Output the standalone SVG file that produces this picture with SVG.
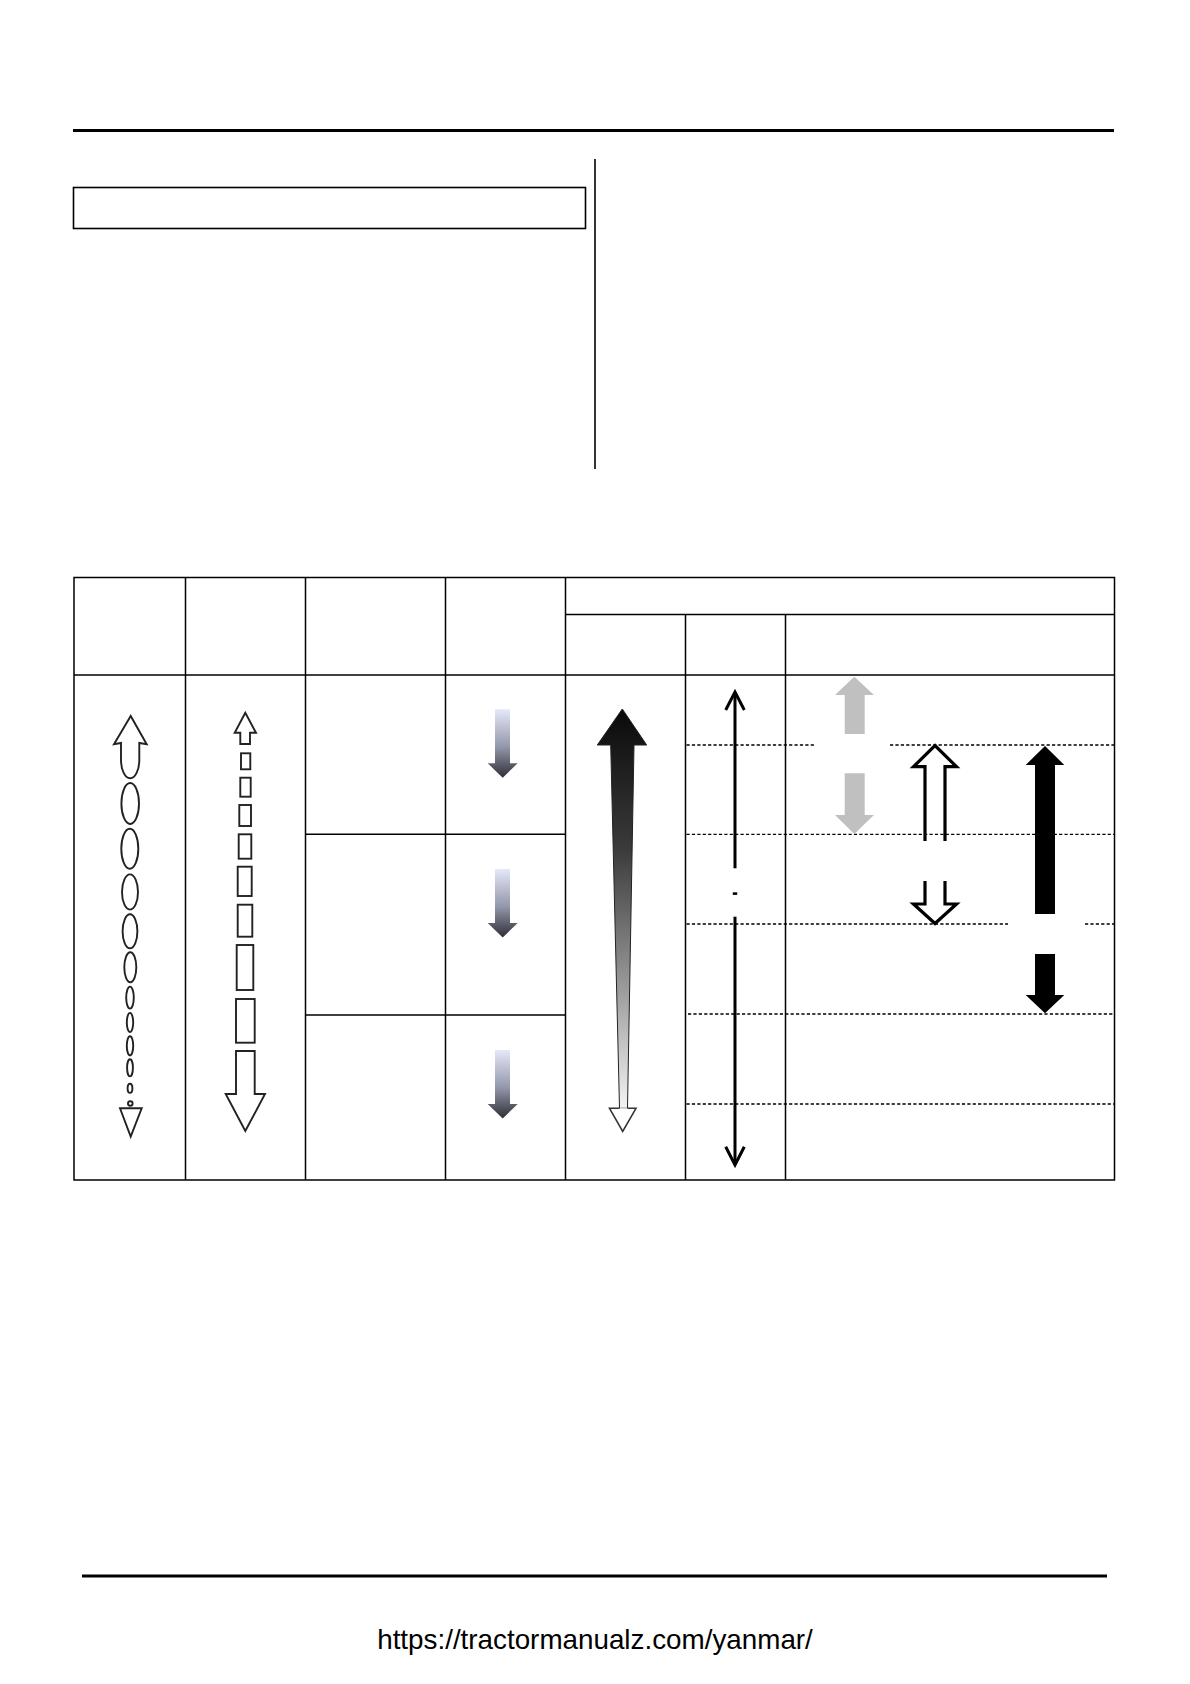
<svg xmlns="http://www.w3.org/2000/svg" width="1190" height="1684" viewBox="0 0 1190 1684">
<style>
.grid{stroke:#000;stroke-width:1.5;fill:none}
.dash{stroke:#000;stroke-width:1.3;stroke-dasharray:3.2 2.2;fill:none}
.gray{fill:#c0c0c0}
.blk{fill:#000}
.hollow{fill:none;stroke:#000;stroke-width:3.2;stroke-linejoin:miter}
.thin{fill:none;stroke:#000;stroke-width:3}
</style>
<defs>
<linearGradient id="gBlue" x1="0" y1="0" x2="0" y2="1">
<stop offset="0" stop-color="#e4e8f8"/>
<stop offset="0.55" stop-color="#9397aa"/>
<stop offset="1" stop-color="#2f2f37"/>
</linearGradient>
<linearGradient id="gTaper" gradientUnits="userSpaceOnUse" x1="0" y1="709" x2="0" y2="1107">
<stop offset="0" stop-color="#0a0a0a"/>
<stop offset="0.35" stop-color="#3a3a3a"/>
<stop offset="0.7" stop-color="#9a9a9a"/>
<stop offset="1" stop-color="#f2f2f2"/>
</linearGradient>
</defs>
<rect width="1190" height="1684" fill="#fff"/>

<g id="page-frame">
<line x1="73" y1="130.5" x2="1114" y2="130.5" stroke="#000" stroke-width="3"/>
<rect x="73.5" y="187.5" width="512" height="41" fill="none" stroke="#000" stroke-width="1.6"/>
<line x1="595" y1="159" x2="595" y2="469" stroke="#000" stroke-width="1.6"/>
<line x1="82" y1="1576" x2="1107" y2="1576" stroke="#000" stroke-width="2.8"/>
<text x="595" y="1649" font-family="'Liberation Sans', Arial, sans-serif" font-size="27.8" text-anchor="middle" fill="#000">https://tractormanualz.com/yanmar/</text>
</g>

<g id="table">
<rect class="grid" x="74" y="577.5" width="1040.5" height="602.5"/>
<line class="grid" x1="74" y1="675" x2="1114.5" y2="675"/>
<line class="grid" x1="565.5" y1="614.5" x2="1114.5" y2="614.5"/>
<line class="grid" x1="185.5" y1="577.5" x2="185.5" y2="1180"/>
<line class="grid" x1="305.5" y1="577.5" x2="305.5" y2="1180"/>
<line class="grid" x1="445.5" y1="577.5" x2="445.5" y2="1180"/>
<line class="grid" x1="565.5" y1="577.5" x2="565.5" y2="1180"/>
<line class="grid" x1="685.5" y1="614.5" x2="685.5" y2="1180"/>
<line class="grid" x1="785.5" y1="614.5" x2="785.5" y2="1180"/>
<line class="grid" x1="305.5" y1="834.3" x2="565.5" y2="834.3"/>
<line class="grid" x1="305.5" y1="1015" x2="565.5" y2="1015"/>
</g>

<g id="connectors">
<line class="dash" x1="686.5" y1="745" x2="815" y2="745"/>
<line class="dash" x1="890" y1="745" x2="1115" y2="745"/>
<line class="dash" x1="686.5" y1="834.3" x2="1115" y2="834.3"/>
<line class="dash" x1="686.5" y1="924" x2="1008" y2="924"/>
<line class="dash" x1="1085" y1="924" x2="1115" y2="924"/>
<line class="dash" x1="688" y1="1014" x2="1115" y2="1014"/>
<line class="dash" x1="686.5" y1="1104" x2="1115" y2="1104"/>
</g>

<g id="oval-arrow" fill="none" stroke="#222" stroke-width="1.9">
<path d="M130.7,716 L114,744.3 L121,743 L121,760 A9.15,18.3 0 0 0 139.3,760 L139.3,743 L146.7,744.3 Z"/>
<ellipse cx="130.2" cy="803.5" rx="8.8" ry="20.5"/>
<ellipse cx="129.8" cy="848.8" rx="8.5" ry="20"/>
<ellipse cx="130" cy="892" rx="8" ry="17.6"/>
<ellipse cx="130" cy="931.3" rx="7.4" ry="17"/>
<ellipse cx="130.3" cy="967.3" rx="6" ry="15"/>
<ellipse cx="130" cy="997.6" rx="3.8" ry="11"/>
<ellipse cx="130" cy="1022.5" rx="3.2" ry="9.6"/>
<ellipse cx="130" cy="1045.8" rx="3.2" ry="9.6"/>
<ellipse cx="130" cy="1067.8" rx="2.9" ry="8.6"/>
<ellipse cx="130" cy="1088.3" rx="2.4" ry="4.6"/>
<circle cx="130.3" cy="1103.5" r="2.3"/>
<path d="M120,1108.3 L141.7,1108.3 L130.7,1136.5 Z"/>
</g>

<g id="rect-arrow" fill="none" stroke="#222" stroke-width="1.9">
<path d="M245.3,712.7 L234.7,732.7 L240.3,732.7 L240.3,744 L250,744 L250,732.7 L256,732.7 Z"/>
<rect x="241" y="753.3" width="9.3" height="16"/>
<rect x="240.3" y="777.7" width="10.4" height="19"/>
<rect x="239.3" y="805" width="11.7" height="21"/>
<rect x="238.7" y="834.3" width="12.6" height="24.4"/>
<rect x="237.7" y="866.7" width="14" height="29.3"/>
<rect x="237.7" y="904.7" width="14.6" height="32"/>
<rect x="236.7" y="945" width="16.6" height="45"/>
<rect x="236" y="999" width="18.7" height="43.7"/>
<path d="M236,1051 L254.7,1051 L254.7,1094 L265,1094 L245.3,1131 L225.7,1094 L236,1094 Z"/>
</g>

<g id="gradient-arrows" fill="url(#gBlue)">
<path id="ga1" d="M495,709.3 L510,709.3 L510,763.3 L517.7,763.3 L502.7,777.7 L487.7,763.3 L495,763.3 Z"/>
<path id="ga2" transform="translate(0,159.7)" d="M495,709.3 L510,709.3 L510,763.3 L517.7,763.3 L502.7,777.7 L487.7,763.3 L495,763.3 Z"/>
<path id="ga3" transform="translate(0,340.7)" d="M495,709.3 L510,709.3 L510,763.3 L517.7,763.3 L502.7,777.7 L487.7,763.3 L495,763.3 Z"/>
</g>

<g id="taper-arrow">
<path d="M622.3,709 L597.3,745 L610.7,745 L619.5,1108.3 L627.5,1108.3 L634,745 L646.7,745 Z" fill="url(#gTaper)" stroke="#222" stroke-width="1"/>
<path d="M619.5,1108.3 L609.5,1108.3 L622.7,1131.5 L636,1108.3 L627.5,1108.3" fill="#fff" stroke="#333" stroke-width="1.6"/>
</g>

<g id="range-line">
<polyline class="thin" points="725.7,710 735,692 744.3,710"/>
<line class="thin" x1="735" y1="693" x2="735" y2="868.3"/>
<rect x="732.8" y="892.3" width="4.4" height="2.6" fill="#000"/>
<line class="thin" x1="735" y1="916.7" x2="735" y2="1164"/>
<polyline class="thin" points="725.7,1146.7 735,1165 744.3,1146.7"/>
</g>

<g id="gray-arrows" class="gray">
<path d="M854.3,676.7 L835,695 L844.7,695 L844.7,734 L864.7,734 L864.7,695 L874,695 Z"/>
<path d="M844.7,773.3 L864.7,773.3 L864.7,815 L874,815 L854.3,834 L835,815 L844.7,815 Z"/>
</g>

<g id="hollow-arrow" class="hollow">
<path d="M925,841 L925,766.7 L913.5,766.7 L935,745.5 L956.5,766.7 L945,766.7 L945,841"/>
<path d="M925,881 L925,904 L913.5,904 L935,923.5 L956.5,904 L945,904 L945,881"/>
</g>

<g id="black-arrow" class="blk">
<path d="M1045,746 L1025.7,765 L1035,765 L1035,914 L1055,914 L1055,765 L1064.3,765 Z"/>
<path d="M1035,954 L1055,954 L1055,995 L1064.3,995 L1045,1013.3 L1025.7,995 L1035,995 Z"/>
</g>
</svg>
